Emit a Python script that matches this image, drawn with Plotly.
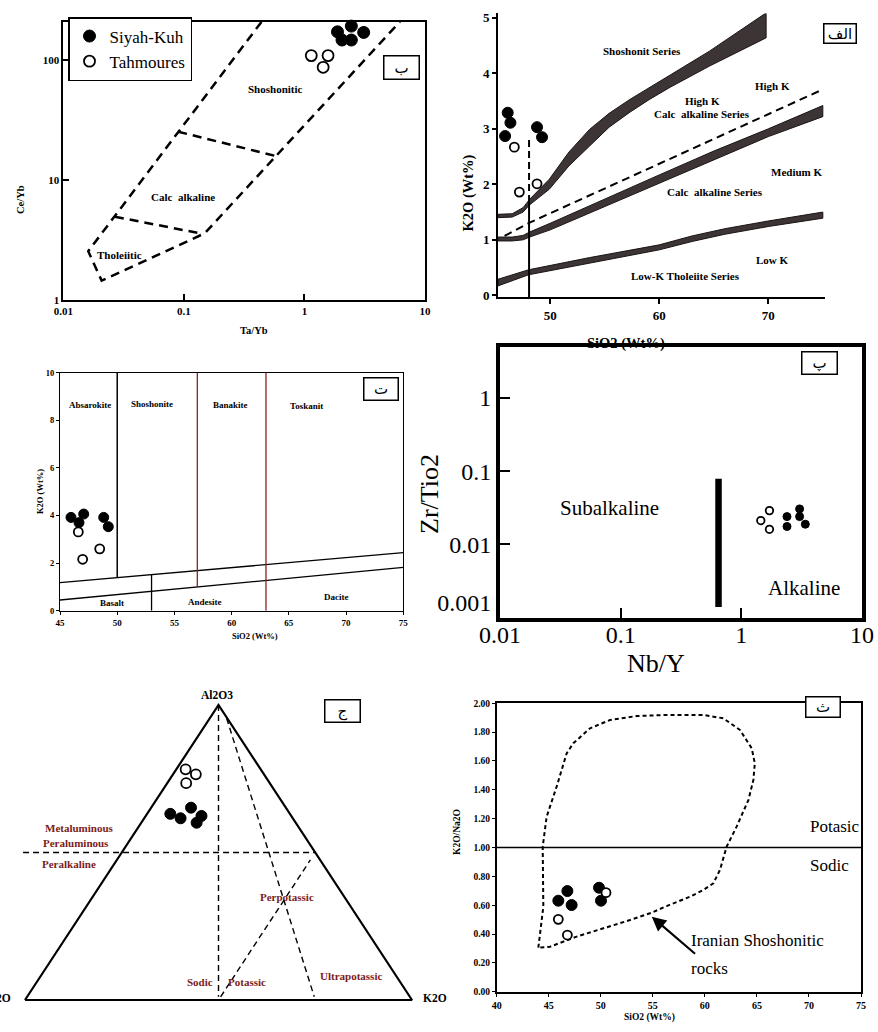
import numpy as np
import plotly.graph_objects as go

W, H = 878, 1032
SERIF = "Liberation Serif"
AR = "DejaVu Sans"
DARKRED = "#7a1c1c"

# ---------------- Panel ب : Ce/Yb vs Ta/Yb ----------------
b_siyah_ta = [1.88, 2.45, 3.10, 2.05, 2.45]
b_siyah_ce = [172, 192, 170, 147, 147]
b_tah_ta = [1.14, 1.57, 1.43]
b_tah_ce = [109, 109, 87]
b_outer_ta = [0.44, 0.0161, 0.0208, 0.149, 6.2]
b_outer_ce = [208, 2.55, 1.45, 3.6, 209]
b_tc_ta = [0.0268, 0.145]
b_tc_ce = [4.95, 3.55]
b_cs_ta = [0.0897, 0.586]
b_cs_ce = [25.3, 15.8]

# ---------------- Panel الف : K2O vs SiO2 ----------------
a_siyah_si = [46.09, 46.34, 45.85, 48.78, 49.24]
a_siyah_k = [3.29, 3.11, 2.87, 3.03, 2.85]
a_tah_si = [46.7, 47.16, 48.78]
a_tah_k = [2.67, 1.86, 2.01]
band1_si = [45.2, 46.5, 47.5, 48.1, 49.9, 51.7, 53.6, 55.4, 57.3, 59.1, 61.0, 64.6, 69.8]
band1_up = [1.46, 1.47, 1.58, 1.73, 2.09, 2.58, 2.99, 3.28, 3.53, 3.75, 3.97, 4.40, 5.09]
band1_lo = [1.40, 1.41, 1.50, 1.63, 1.91, 2.33, 2.69, 3.03, 3.30, 3.53, 3.75, 4.13, 4.64]
band2_si = [45.2, 46.5, 47.5, 48.1, 50, 55, 60, 65, 70, 75]
band2_up = [1.05, 1.05, 1.08, 1.14, 1.30, 1.74, 2.17, 2.60, 3.00, 3.42]
band2_lo = [0.98, 0.98, 1.00, 1.05, 1.18, 1.60, 2.02, 2.44, 2.86, 3.22]
band3_si = [45.2, 48, 53.6, 60, 63, 66, 70, 75]
band3_up = [0.29, 0.46, 0.68, 0.91, 1.07, 1.20, 1.34, 1.50]
band3_lo = [0.17, 0.37, 0.58, 0.82, 0.97, 1.10, 1.24, 1.39]
a_dash_si = [45.8, 48.1, 75]
a_dash_k = [1.07, 1.31, 3.71]
a_vsolid_si = [48.05, 48.05]
a_vsolid_k = [-0.03, 1.68]
a_vdash_si = [48.05, 48.05]
a_vdash_k = [1.68, 2.87]

# ---------------- Panel ت : K2O vs SiO2 (0-10) ----------------
t_siyah_si = [45.96, 46.66, 47.07, 48.82, 49.22]
t_siyah_k = [3.92, 3.70, 4.06, 3.92, 3.53]
t_tah_si = [46.6, 46.98, 48.47]
t_tah_k = [3.31, 2.16, 2.60]
t_up_si = [45, 75]
t_up_k = [1.18, 2.44]
t_lo_si = [45, 75]
t_lo_k = [0.45, 1.82]
t_v50_k = [1.40, 10]
t_v53_k = [0, 1.53]
t_v57_k = [1.00, 10]
t_v63_k = [0, 10]

# ---------------- Panel پ : Zr/TiO2 vs Nb/Y ----------------
p_siyah_nby = [2.39, 2.39, 3.04, 3.04, 3.39]
p_siyah_zr = [0.0240, 0.0176, 0.0306, 0.0240, 0.0189]
p_tah_nby = [1.71, 1.45, 1.71]
p_tah_zr = [0.0290, 0.0212, 0.0161]
p_bar_nby = [0.647, 0.647]
p_bar_zr = [0.0014, 0.079]

# ---------------- Panel ج : ternary Al2O3-Na2O-K2O (%) ----------------
j_siyah_al = [63.1, 61.6, 65.2, 62.4, 60.1]
j_siyah_na = [30.9, 29.0, 24.5, 23.2, 25.6]
j_siyah_k = [6.0, 9.4, 10.3, 14.4, 14.3]
j_tah_al = [78.2, 76.5, 73.5]
j_tah_na = [19.4, 17.6, 21.6]
j_tah_k = [2.4, 5.9, 4.9]
j_tri_al = [0, 0, 100, 0]
j_tri_na = [100, 0, 0, 100]
j_tri_k = [0, 100, 0, 0]
j_vert_al = [100, 1.1]
j_vert_na = [0, 49.45]
j_vert_k = [0, 49.45]
j_hor_al = [50, 50]
j_hor_na = [75.5, 0]
j_hor_k = [-25.5, 50]
j_ultra_al = [95.5, 1.1]
j_ultra_na = [0.15, 24.7]
j_ultra_k = [4.35, 74.2]
j_perp_al = [1.1, 47.5]
j_perp_na = [48.9, 2.5]
j_perp_k = [50, 50]

# ---------------- Panel ث : K2O/Na2O vs SiO2 ----------------
s_siyah_si = [45.92, 46.79, 47.2, 49.83, 50.02]
s_siyah_r = [0.631, 0.698, 0.601, 0.721, 0.631]
s_tah_si = [50.5, 45.92, 46.79]
s_tah_r = [0.687, 0.502, 0.393]
s_field_si = [44.0, 44.48, 44.42, 44.80, 45.76, 46.72, 47.36, 48.97, 50.89, 53.45, 56.33,
              59.85, 61.77, 63.37, 64.5, 64.8, 64.66, 64.18, 63.05, 62.09, 61.45, 60.81,
              59.85, 58.57, 56.33, 54.89, 52.81, 50.25, 47.68, 45.12, 44.0]
s_field_r = [0.305, 0.590, 1.006, 1.214, 1.422, 1.653, 1.723, 1.827, 1.884, 1.912, 1.919,
             1.919, 1.896, 1.815, 1.688, 1.584, 1.468, 1.329, 1.145, 1.006, 0.844, 0.751,
             0.705, 0.659, 0.594, 0.548, 0.497, 0.439, 0.382, 0.312, 0.305]
s_div_si = [40, 75]
s_div_r = [1.0, 1.0]


def tern_xy(al, na, k):
    al = np.asarray(al, float); na = np.asarray(na, float); k = np.asarray(k, float)
    tot = al + na + k
    a = al / tot
    kk = k / tot
    return kk + a / 2.0, a


def dx(p0, p1):
    return [p0 / W, p1 / W]


def dy(top, bot):
    return [1 - bot / H, 1 - top / H]


fig = go.Figure()

FILLED = dict(color="black", size=11, line=dict(color="black", width=1))
OPEN = dict(color="white", size=10, line=dict(color="black", width=1.8))


def pts(x, y, xa, ya, filled, size=None, legend=False, name=None):
    m = dict(FILLED if filled else OPEN)
    if size is not None:
        m["size"] = size
    fig.add_trace(go.Scatter(x=x, y=y, mode="markers", marker=m, xaxis=xa, yaxis=ya,
                             showlegend=legend, name=name, cliponaxis=False))


def line(x, y, xa, ya, width=1.5, dash="solid", color="black", fill=None, fillcolor=None):
    fig.add_trace(go.Scatter(x=x, y=y, mode="lines", line=dict(color=color, width=width, dash=dash),
                             xaxis=xa, yaxis=ya, showlegend=False, fill=fill, fillcolor=fillcolor,
                             hoverinfo="skip"))


# Panel ب
line(b_outer_ta, b_outer_ce, "x", "y", 2.5, "9px,6px")
line(b_tc_ta, b_tc_ce, "x", "y", 2.5, "9px,6px")
line(b_cs_ta, b_cs_ce, "x", "y", 2.5, "9px,6px")
pts(b_siyah_ta, b_siyah_ce, "x", "y", True, 12, True, "Siyah-Kuh")
pts(b_tah_ta, b_tah_ce, "x", "y", False, 11, True, "Tahmoures")

# Panel الف
for sx, up, lo in [(band1_si, band1_up, band1_lo), (band2_si, band2_up, band2_lo), (band3_si, band3_up, band3_lo)]:
    line(list(sx) + list(sx[::-1]) + [sx[0]], list(up) + list(lo[::-1]) + [up[0]], "x2", "y2",
         1, "solid", "#1a1414", "toself", "#3d3535")
line(a_dash_si, a_dash_k, "x2", "y2", 2, "8px,5px")
line(a_vsolid_si, a_vsolid_k, "x2", "y2", 2)
line(a_vdash_si, a_vdash_k, "x2", "y2", 2, "7px,4px")
pts(a_siyah_si, a_siyah_k, "x2", "y2", True, 11)
pts(a_tah_si, a_tah_k, "x2", "y2", False, 9)

# Panel ت
line(t_up_si, t_up_k, "x3", "y3", 1.3)
line(t_lo_si, t_lo_k, "x3", "y3", 1.3)
line([50, 50], t_v50_k, "x3", "y3", 1.5)
line([53, 53], t_v53_k, "x3", "y3", 1.3)
line([57, 57], t_v57_k, "x3", "y3", 1.3, color="#8a2222")
line([63, 63], t_v63_k, "x3", "y3", 1.3, color="#8a2222")
pts(t_siyah_si, t_siyah_k, "x3", "y3", True, 10)
pts(t_tah_si, t_tah_k, "x3", "y3", False, 9)

# Panel پ
line(p_bar_nby, p_bar_zr, "x4", "y4", 6.5)
pts(p_siyah_nby, p_siyah_zr, "x4", "y4", True, 8)
pts(p_tah_nby, p_tah_zr, "x4", "y4", False, 7.5)

# Panel ج
tx, ty = tern_xy(j_tri_al, j_tri_na, j_tri_k)
line(tx, ty, "x5", "y5", 2.2)
for al, na, k in [(j_vert_al, j_vert_na, j_vert_k), (j_hor_al, j_hor_na, j_hor_k),
                  (j_ultra_al, j_ultra_na, j_ultra_k), (j_perp_al, j_perp_na, j_perp_k)]:
    lx, ly = tern_xy(al, na, k)
    line(lx, ly, "x5", "y5", 1.4, "6px,4px")
jx, jy = tern_xy(j_siyah_al, j_siyah_na, j_siyah_k)
pts(jx, jy, "x5", "y5", True, 11)
jx, jy = tern_xy(j_tah_al, j_tah_na, j_tah_k)
pts(jx, jy, "x5", "y5", False, 10)

# Panel ث
line(s_field_si, s_field_r, "x6", "y6", 2, "4px,3px")
line(s_div_si, s_div_r, "x6", "y6", 1.5)
pts(s_siyah_si, s_siyah_r, "x6", "y6", True, 11)
pts(s_tah_si, s_tah_r, "x6", "y6", False, 9)

# ---------------- axes ----------------


def tf(size, bold=True):
    d = dict(family=SERIF, color="black", size=size)
    if bold:
        d["weight"] = "bold"
    return d


common = dict(showgrid=False, zeroline=False, color="black", linecolor="black", automargin=False)

layout_axes = dict(
    xaxis=dict(common, domain=dx(63.3, 425), type="log", range=[-2, 1], anchor="y",
               showline=True, mirror=True, linewidth=1.6, ticks="inside", ticklen=6, tickwidth=2,
               tickvals=[0.01, 0.1, 1, 10], ticktext=["0.01", "0.1", "1", "10"], tickfont=tf(11)),
    yaxis=dict(common, domain=dy(21.7, 300), type="log", range=[0, 2.32], anchor="x",
               showline=True, mirror=True, linewidth=1.6, ticks="inside", ticklen=6, tickwidth=2,
               tickvals=[1, 10, 100], ticktext=["1", "10", "100"], tickfont=tf(11)),
    xaxis2=dict(common, domain=dx(498, 825), range=[45.2, 75.2], anchor="y2",
                showline=True, linewidth=2, ticks="outside", ticklen=5, tickwidth=2,
                tickvals=[50, 60, 70], tickfont=tf(13)),
    yaxis2=dict(common, domain=dy(13.4, 297), range=[-0.03, 5.08], anchor="x2",
                showline=True, linewidth=2, ticks="outside", ticklen=4, tickwidth=2,
                tickvals=[0, 1, 2, 3, 4, 5], tickfont=tf(13)),
    xaxis3=dict(common, domain=dx(60, 403.3), range=[45, 75], anchor="y3",
                showline=True, mirror=True, linewidth=1.3, ticks="outside", ticklen=3, tickwidth=1,
                tickvals=[45, 50, 55, 60, 65, 70, 75], tickfont=tf(9)),
    yaxis3=dict(common, domain=dy(372.7, 610.7), range=[0, 10], anchor="x3",
                showline=True, mirror=True, linewidth=1.3, ticks="outside", ticklen=3, tickwidth=1,
                tickvals=[0, 2, 4, 6, 8, 10], tickfont=tf(8.5)),
    xaxis4=dict(common, domain=dx(500, 862), type="log", range=[-2, 1], anchor="y4",
                showline=True, mirror=True, linewidth=4, ticks="inside", ticklen=10, tickwidth=2,
                ticklabelstandoff=-8,
                tickvals=[0.01, 0.1, 1, 10], ticktext=["0.01", "0.1", "1", "10"], tickfont=tf(24, False)),
    yaxis4=dict(common, domain=dy(346.7, 617.7), type="log", range=[-3, 0.70], anchor="x4",
                showline=True, mirror=True, linewidth=4, ticks="inside", ticklen=10, tickwidth=2,
                tickvals=[0.001, 0.01, 0.1, 1], ticktext=["0.001<br> ", "0.01", "0.1", "1"],
                tickfont=tf(24, False)),
    xaxis5=dict(common, domain=dx(0, 440), range=[-25 / 387, 415 / 387], anchor="y5",
                visible=False),
    yaxis5=dict(common, domain=dy(690, 1010), range=[-10 / 295, 310 / 295], anchor="x5",
                visible=False),
    xaxis6=dict(common, domain=dx(496.7, 861), range=[40, 75], anchor="y6",
                showline=True, mirror=True, linewidth=1.6, ticks="outside", ticklen=3, tickwidth=1,
                tickvals=[40, 45, 50, 55, 60, 65, 70, 75], tickfont=tf(10)),
    yaxis6=dict(common, domain=dy(703.3, 991.7), range=[0, 2], anchor="x6",
                showline=True, mirror=True, linewidth=1.6, ticks="outside", ticklen=3, tickwidth=1,
                tickvals=[0, 0.2, 0.4, 0.6, 0.8, 1.0, 1.2, 1.4, 1.6, 1.8, 2.0], tickformat=".2f",
                tickfont=tf(9.5)),
)

anns = []


def A(text, x, y, xref, yref, size, bold=True, color="black", family=SERIF, **kw):
    f = dict(family=family, size=size, color=color)
    if bold:
        f["weight"] = "bold"
    d = dict(text=text, x=x, y=y, xref=xref, yref=yref, showarrow=False, font=f)
    d.update(kw)
    anns.append(d)


def P(text, px, py, size, bold=True, **kw):
    A(text, px / W, 1 - py / H, "paper", "paper", size, bold, **kw)


def box(text, cx, cy, w, h):
    anns.append(dict(text=text, x=cx / W, y=1 - cy / H, xref="paper", yref="paper", showarrow=False,
                     font=dict(family=AR, size=15, color="black"), bordercolor="black",
                     borderwidth=1.5, borderpad=0, width=w - 3, height=h - 3, bgcolor="white"))


L = np.log10
# Panel ب texts
A("Shoshonitic", L(0.578), L(57.3), "x", "y", 11)
A("Calc  alkaline", L(0.0982), L(7.21), "x", "y", 11)
A("Tholeiitic", L(0.0295), L(2.37), "x", "y", 11)
P("Ce/Yb", 13, 183, 10.5, textangle=-90)
P("Ta/Yb", 238, 323, 10.5)
box("ب", 401.5, 55.5, 37, 25)

# Panel الف texts
A("Shoshonit Series", 58.44, 4.40, "x2", "y2", 11)
A("High K", 70.37, 3.78, "x2", "y2", 11)
A("High K", 63.94, 3.50, "x2", "y2", 11)
A("Calc  alkaline Series", 63.94, 3.26, "x2", "y2", 11)
A("Medium K", 72.57, 2.22, "x2", "y2", 11)
A("Calc  alkaline Series", 65.14, 1.87, "x2", "y2", 11)
A("Low K", 70.37, 0.63, "x2", "y2", 11)
A("Low-K Tholeiite Series", 62.39, 0.34, "x2", "y2", 11)
P("K2O (Wt%)", 468, 153, 14.5, textangle=-90)
P("SiO2 (Wt%)", 667, 333, 14.5)
box("الف", 856.5, 23, 34, 21)

# Panel ت texts
A("Absarokite", 47.6, 8.64, "x3", "y3", 9)
A("Shoshonite", 53.0, 8.68, "x3", "y3", 9)
A("Banakite", 59.9, 8.64, "x3", "y3", 9)
A("Toskanit", 66.5, 8.60, "x3", "y3", 9)
A("Basalt", 49.5, 0.31, "x3", "y3", 9)
A("Andesite", 57.7, 0.35, "x3", "y3", 9)
A("Dacite", 69.2, 0.59, "x3", "y3", 9)
P("K2O (Wt%)", 33, 492, 8.5, textangle=-90)
P("SiO2 (Wt%)", 230, 636, 8.5)
box("ت", 381, 389, 36, 24)

# Panel پ texts
A("Subalkaline", L(0.0807), L(0.0313), "x4", "y4", 21, False)
A("Alkaline", L(3.28), L(0.00257), "x4", "y4", 21, False)
P("Zr/Tio2", 430, 494, 26, False, textangle=-90)
P("Nb/Y", 687, 663, 26, False)
box("پ", 837.5, 363, 37, 24)

# Panel ج texts (compositions converted through the ternary projection)
A("Al2O3", 0.496, 1.034, "x5", "y5", 11.5)
A("K2O", 1.022, 0.007, "x5", "y5", 11.5, xanchor="left")
A("Na2O", -0.031, 0.007, "x5", "y5", 11.5, xanchor="right")
A("Metaluminous", 0.140, 0.583, "x5", "y5", 11, color=DARKRED)
A("Peraluminous", 0.132, 0.532, "x5", "y5", 11, color=DARKRED)
A("Peralkaline", 0.114, 0.461, "x5", "y5", 11, color=DARKRED)
A("Perpotassic", 0.677, 0.349, "x5", "y5", 11, color=DARKRED)
A("Sodic", 0.452, 0.061, "x5", "y5", 11, color=DARKRED)
A("Potassic", 0.574, 0.061, "x5", "y5", 11, color=DARKRED)
A("Ultrapotassic", 0.842, 0.081, "x5", "y5", 11, color=DARKRED)
box("ج", 342.5, 722.5, 37, 24)

# Panel ث texts
A("Potasic", 72.5, 1.145, "x6", "y6", 17, False)
A("Sodic", 72.0, 0.874, "x6", "y6", 17, False)
A("Iranian Shoshonitic", 65.1, 0.358, "x6", "y6", 17, False)
A("rocks", 60.4, 0.162, "x6", "y6", 17, False)
anns.append(dict(x=54.9, y=0.52, ax=59.2, ay=0.254, xref="x6", yref="y6", axref="x6", ayref="y6",
                 showarrow=True, arrowhead=2, arrowsize=1.3, arrowwidth=2.2, arrowcolor="black",
                 text=""))
P("K2O/Na2O", 457, 857, 9.5, textangle=-90)
P("SiO2 (Wt%)", 677, 1025, 9.5)
box("ث", 841, 717.5, 36, 22)

fig.update_layout(
    width=W, height=H, margin=dict(l=0, r=0, t=0, b=0, pad=0, autoexpand=False),
    paper_bgcolor="white", plot_bgcolor="rgba(0,0,0,0)",
    showlegend=True,
    legend=dict(x=68 / W, y=1 - 17 / H, xanchor="left", yanchor="top", bordercolor="black",
                borderwidth=1.5, bgcolor="white", font=dict(family=SERIF, size=17, color="black"),
                itemwidth=30, tracegroupgap=0),
    annotations=anns,
    **layout_axes,
)

fig.write_html("out.html", config={"displayModeBar": False},
               post_script="document.body.style.margin='0px';document.documentElement.style.margin='0px';")
